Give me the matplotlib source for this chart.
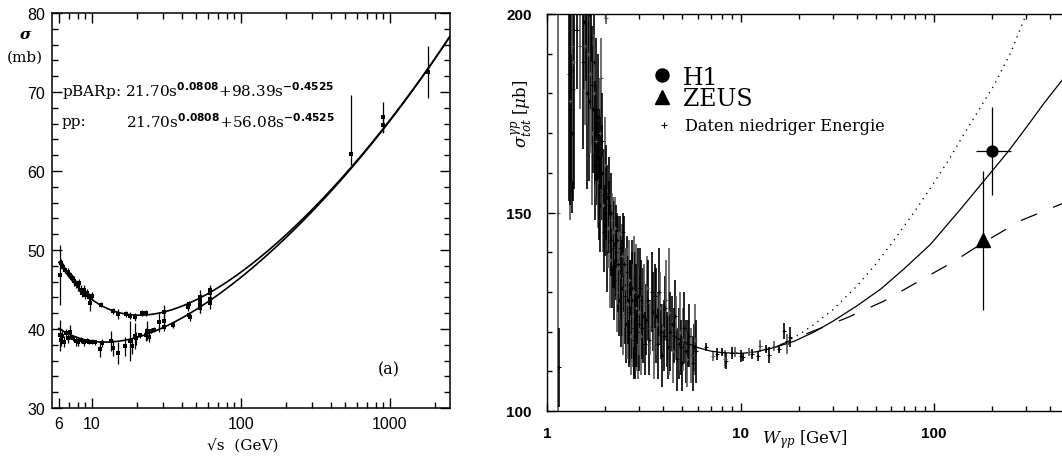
import numpy as np
import matplotlib
matplotlib.use("Agg")
import matplotlib.pyplot as plt
from matplotlib.lines import Line2D

plt.rcParams['lines.scale_dashes'] = False

# ---------------- left panel: fit parameters shown in the chart ----------------
fit_A = 21.70
fit_eps = 0.0808
fit_Y_ppbar = 98.39
fit_Y_pp = 56.08
fit_eta = 0.4525
curve_range = [6.0, 2530.0]

# antiproton-proton data (sqrt s [GeV], sigma [mb], error)
ppbar_rs = [6.1, 6.2, 6.4, 6.6, 6.9, 7.1, 7.3, 7.6, 7.8, 8.0, 8.2, 8.4, 8.6, 8.8, 9.0,
            9.3, 9.6, 9.7, 10.0, 11.5, 13.8, 15.0, 17.0, 18.0, 19.4, 21.5, 23.0, 30.4,
            44.2, 44.7, 53.0, 53.3, 62.0, 62.3]
ppbar_sig = [46.8, 48.3, 47.9, 47.5, 47.2, 46.8, 46.4, 46.1, 45.7, 45.4, 45.8, 45.0, 44.6, 44.9, 44.3,
             44.5, 44.1, 43.3, 44.2, 43.1, 42.3, 41.9, 41.9, 41.7, 41.5, 42.0, 42.0, 42.2,
             42.8, 43.2, 44.1, 43.5, 44.5, 45.0]
ppbar_err = [3.8, 0.6, 0.5, 0.4, 0.5, 0.4, 0.5, 0.6, 0.5, 0.6, 0.5, 0.6, 0.5, 0.7, 0.5,
             0.6, 0.5, 1.0, 0.5, 0.3, 0.4, 0.6, 0.4, 0.4, 0.5, 0.4, 0.4, 0.9,
             0.5, 0.4, 0.8, 0.5, 1.0, 0.6]

# proton-proton data
pp_rs = [6.1, 6.2, 6.3, 6.5, 6.7, 6.9, 7.1, 7.4, 7.8, 8.1, 8.5, 8.9, 9.2, 9.6, 10.0, 10.5,
         11.4, 11.7, 13.5, 13.8, 15.0, 16.6, 18.0, 18.5, 19.4, 19.8, 21.0, 23.0, 23.5,
         24.0, 25.0, 26.0, 28.3, 30.4, 30.6, 35.0, 44.7, 45.2, 52.8, 53.2, 62.0, 62.4]
pp_sig = [39.2, 38.6, 39.1, 38.4, 39.5, 38.8, 39.6, 38.9, 38.5, 38.4, 38.6, 38.3, 38.5, 38.4, 38.4, 38.3,
          37.5, 38.2, 38.5, 37.6, 37.0, 37.8, 38.5, 37.8, 39.1, 38.8, 39.2, 39.3, 39.8,
          39.0, 39.8, 39.9, 40.9, 40.3, 41.0, 40.5, 41.8, 41.5, 42.6, 43.0, 43.3, 43.8]
pp_err = [2.0, 0.8, 0.6, 0.7, 0.5, 0.6, 0.9, 0.4, 0.6, 0.5, 0.4, 0.4, 0.3, 0.3, 0.3, 0.3,
          1.0, 0.5, 1.3, 1.0, 1.4, 1.2, 2.5, 1.0, 1.6, 0.8, 0.3, 0.8, 1.2,
          0.6, 0.3, 0.3, 1.3, 0.5, 0.9, 0.4, 0.4, 0.5, 0.6, 1.0, 0.8, 0.5]

# collider antiproton-proton points
hi_rs = [546, 900, 900, 1800]
hi_sig = [62.2, 66.8, 65.8, 72.5]
hi_err_lo = [1.5, 1.9, 1.0, 3.3]
hi_err_hi = [7.4, 1.9, 1.0, 3.3]

left_xticks = [6, 10, 100, 1000]
left_xticklabels = ['6', '10', '100', '1000']
left_yticks = [30, 40, 50, 60, 70, 80]

# ---------------- right panel data ----------------
le_W = [1.145, 1.15, 1.30, 1.31, 1.32, 1.33, 1.34, 1.35, 1.36, 1.37, 1.38, 1.43, 1.48, 1.53,
        1.55, 1.58, 1.60, 1.61, 1.63, 1.64, 1.65, 1.67, 1.68, 1.70, 1.71, 1.72, 1.74, 1.75,
        1.76, 1.77, 1.79, 1.80, 1.82, 1.83, 1.84, 1.86, 1.87, 1.88, 1.89, 1.90, 1.92, 1.93,
        1.95, 1.96, 1.98, 1.99, 2.00, 2.01, 2.02, 2.04, 2.05, 2.07, 2.08, 2.10, 2.11, 2.13,
        2.14, 2.16, 2.17, 2.19, 2.20, 2.22, 2.23, 2.25, 2.26, 2.28, 2.29, 2.31, 2.32, 2.34,
        2.35, 2.37, 2.38, 2.40, 2.42, 2.44, 2.45, 2.47, 2.48, 2.50, 2.52, 2.54, 2.56, 2.58,
        2.60, 2.62, 2.64, 2.66, 2.68, 2.70, 2.72, 2.74, 2.76, 2.78, 2.80, 2.81, 2.83, 2.85,
        2.86, 2.88, 2.90, 2.92, 2.94, 2.96, 2.98, 3.00, 3.02, 3.05, 3.07, 3.10, 3.13, 3.17,
        3.20, 3.25, 3.28, 3.33, 3.37, 3.42, 3.47, 3.52, 3.57, 3.62, 3.66, 3.70, 3.75, 3.79,
        3.84, 3.88, 3.92, 3.97, 4.02, 4.08, 4.12, 4.18, 4.22, 4.27, 4.34, 4.40, 4.46, 4.53,
        4.59, 4.65, 4.72, 4.80, 4.86, 4.93, 4.99, 5.05, 5.12, 5.20, 5.28, 5.35, 5.45, 5.55,
        5.65, 5.75, 5.82, 5.90,
        6.6, 7.2, 7.6, 8.0, 8.3, 8.4, 9.0, 9.4, 10.0, 10.3, 11.0, 11.5, 12.3, 12.6,
        13.6, 14.1, 14.9, 15.8, 16.7, 17.3, 18.1]
le_sig = [150, 111, 185, 178, 176, 186, 192, 170, 181, 188, 196, 196, 192, 188,
          198, 192, 205, 180, 190, 178, 200, 185, 194, 182, 170, 176, 188, 180,
          170, 162, 168, 176, 164, 158, 174, 158, 170, 166, 152, 184, 160, 168,
          152, 145, 156, 162, 148, 155, 199, 154, 140, 146, 152, 150, 138, 143,
          150, 148, 136, 141, 145, 142, 133, 146, 140, 138, 130, 143, 137, 136,
          128, 141, 134, 134, 126, 139, 131, 145, 124, 137, 129, 131, 122, 135,
          127, 128, 120, 133, 125, 126, 119, 131, 128, 124, 118, 121, 130, 128,
          119, 126, 124, 120, 117, 129, 122, 125, 131, 128, 119, 121, 124, 127,
          117, 123, 131, 128, 118, 121, 130, 125, 116, 129, 124, 122, 117, 130,
          126, 120, 114, 121, 119, 126, 128, 118, 116, 125, 120, 122, 115, 119,
          124, 121, 113, 117, 120, 116, 112, 118, 121, 115, 113, 117, 119, 114,
          112, 116, 118, 115,
          116.1, 113.9, 114.4, 114.9, 113.1, 112.5, 114.6, 114.9, 113.9, 113.6, 114.9, 114.4, 113.9, 116.4,
          115.6, 114.1, 116.4, 115.6, 120.1, 116.9, 118.6]
le_err = [56, 10, 32, 30, 24, 28, 38, 20, 28, 30, 40, 15, 16, 22,
          17, 20, 22, 24, 18, 20, 24, 20, 18, 15, 18, 16, 22, 15,
          13, 14, 14, 18, 12, 12, 16, 15, 14, 10, 12, 10, 12, 12,
          12, 10, 10, 12, 9, 12, 1.5, 8, 10, 10, 12, 8, 12, 9,
          10, 7, 10, 10, 9, 11, 10, 8, 12, 9, 10, 7, 12, 9,
          9, 8, 11, 10, 10, 8, 12, 5, 10, 12, 12, 10, 10, 9,
          14, 11, 9, 10, 13, 12, 10, 9, 15, 13, 9, 13, 14, 12,
          11, 16, 13, 9, 9, 12, 12, 11, 10, 10, 10, 8, 12, 10,
          8, 9, 8, 10, 9, 7, 10, 10, 8, 8, 12, 8, 9, 11,
          9, 7, 8, 6, 9, 8, 10, 7, 8, 16, 10, 7, 8, 7,
          9, 8, 8, 9, 10, 7, 7, 8, 9, 8, 7, 6, 8, 7,
          7, 6, 9, 8,
          1.0, 1.2, 1.5, 1.0, 2.2, 2.0, 1.5, 1.2, 1.5, 1.0, 1.0, 1.2, 1.2, 1.5,
          1.0, 2.0, 1.2, 1.0, 2.0, 2.5, 2.5]

h1_W = [200]
h1_sig = [165.5]
h1_yerr = [11.2]
h1_xerr_lo = [35]
h1_xerr_hi = [50]

zeus_W = [179]
zeus_sig = [143.0]
zeus_yerr = [17.5]

solid_W = [4.5, 5, 6, 7, 8, 10, 12, 15, 19, 24, 30, 40, 53, 70, 96, 138, 200, 243, 306, 370, 464]
solid_sig = [119.0, 117.6, 116.0, 115.1, 114.7, 114.5, 114.9, 116.0, 117.6, 119.9, 122.6, 126.5,
             130.7, 135.8, 142.0, 151.0, 160.5, 165.5, 172.0, 177.5, 183.6]
dotted_W = [15, 17, 20, 24, 30, 40, 50, 60, 80, 100, 120, 141, 168, 204, 250, 300]
dotted_sig = [116.0, 117.3, 119.2, 121.8, 125.5, 131.5, 137.0, 142.0, 150.5, 157.5, 163.5,
              169.3, 175.3, 182.0, 190.4, 200.0]
dashed_W = [15, 19.8, 36.4, 55.2, 83.6, 125, 181, 282, 437, 464]
dashed_sig = [116.0, 118.6, 123.7, 127.7, 132.7, 137.5, 142.5, 148.0, 151.8, 152.3]

right_xticks = [1, 10, 100]
right_xticklabels = ['1', '10', '100']
right_yticks = [100, 150, 200]

# ---------------- figure ----------------
W_px, H_px = 1062, 460
fig = plt.figure(figsize=(W_px / 100, H_px / 100), dpi=100)

def ax_rect(l, t, r, b):
    return [l / W_px, 1 - b / H_px, (r - l) / W_px, (b - t) / H_px]

# ======== left panel ========
axL = fig.add_axes(ax_rect(52, 14, 450, 409))
rs = np.geomspace(curve_range[0], curve_range[1], 400)
s = rs ** 2
axL.plot(rs, fit_A * s ** fit_eps + fit_Y_ppbar * s ** (-fit_eta), color='black', lw=1.2)
axL.plot(rs, fit_A * s ** fit_eps + fit_Y_pp * s ** (-fit_eta), color='black', lw=1.2)

eb_kw = dict(fmt='s', ms=2.4, color='black', ecolor='black', elinewidth=0.9, capsize=1.8,
             capthick=0.9, mew=0)
axL.errorbar(ppbar_rs, ppbar_sig, yerr=ppbar_err, **eb_kw)
axL.errorbar(pp_rs, pp_sig, yerr=pp_err, **eb_kw)
axL.errorbar(hi_rs, hi_sig, yerr=[hi_err_lo, hi_err_hi], **eb_kw)

axL.set_xscale('log')
axL.set_xlim(5.39, 2530)
axL.set_ylim(30, 80)
axL.set_xticks(left_xticks)
axL.set_xticklabels(left_xticklabels)
minorL = [7, 8, 9] + list(range(20, 100, 10)) + list(range(200, 1000, 100)) + [2000]
axL.set_xticks(minorL, minor=True)
axL.set_xticklabels([], minor=True)
axL.set_yticks(left_yticks)
axL.set_yticks(np.arange(30, 81, 2), minor=True)
axL.tick_params(which='both', direction='in', top=True, right=True, width=1.0)
axL.tick_params(which='major', length=7.5)
axL.tick_params(which='minor', length=4)
axL.tick_params(axis='x', which='major', pad=6)
axL.tick_params(axis='y', which='major', pad=5)
for lab in axL.get_xticklabels() + axL.get_yticklabels():
    lab.set_fontfamily('Liberation Sans')
    lab.set_fontsize(11.5)
for sp in axL.spines.values():
    sp.set_linewidth(1.1)

tx = (62 - 52) / 398
axL.text(tx, (409 - 91) / 395,
         r'pBARp: 21.70s$^{\mathbf{0.0808}}$+98.39s$^{\mathbf{-0.4525}}$',
         transform=axL.transAxes, ha='left', va='center', fontsize=11,
         family='DejaVu Serif', math_fontfamily='dejavusans')
axL.text(tx, (409 - 122) / 395, 'pp:', transform=axL.transAxes, ha='left', va='center',
         fontsize=11, family='DejaVu Serif')
axL.text((126 - 52) / 398, (409 - 122) / 395,
         r'21.70s$^{\mathbf{0.0808}}$+56.08s$^{\mathbf{-0.4525}}$',
         transform=axL.transAxes, ha='left', va='center', fontsize=11,
         family='DejaVu Serif', math_fontfamily='dejavusans')
axL.text((389 - 52) / 398, (409 - 370) / 395, '(a)', transform=axL.transAxes,
         ha='center', va='center', fontsize=11.5, family='DejaVu Serif')

fig.text(25 / W_px, 1 - 35 / H_px, 'σ', ha='center', va='center', fontsize=11,
         family='DejaVu Serif', style='italic', weight='bold')
fig.text(25 / W_px, 1 - 58 / H_px, '(mb)', ha='center', va='center', fontsize=11,
         family='DejaVu Serif')
fig.text(243 / W_px, 1 - 445 / H_px, '√s  (GeV)', ha='center', va='center', fontsize=11,
         family='DejaVu Serif')

# ======== right panel ========
axR = fig.add_axes(ax_rect(547, 15, 1062, 412))
colors = ['#000000' if i % 3 else '#555555' for i in range(len(le_W))]
for w, sg, er, c in zip(le_W, le_sig, le_err, colors):
    axR.errorbar([w], [sg], yerr=[er], fmt='+', ms=3, mew=0.7, color=c, ecolor=c,
                 elinewidth=1.2, capsize=0)

axR.plot(solid_W, solid_sig, color='black', lw=0.9)
axR.plot(dotted_W, dotted_sig, color='black', lw=1.0, dashes=(0.9, 3.6))
axR.plot(dashed_W, dashed_sig, color='black', lw=0.9, dashes=(12.5, 12.5))

axR.errorbar(h1_W, h1_sig, yerr=h1_yerr, xerr=[h1_xerr_lo, h1_xerr_hi], fmt='o', ms=7.8,
             color='black', elinewidth=0.9, capsize=0)
axR.errorbar(zeus_W, zeus_sig, yerr=zeus_yerr, fmt='^', ms=10, color='black',
             elinewidth=0.9, capsize=0)

axR.set_xscale('log')
axR.set_xlim(1, 10 ** (515 / 193.5))
axR.set_ylim(100, 200)
axR.set_xticks(right_xticks)
axR.set_xticklabels(right_xticklabels)
minorR = list(range(2, 10)) + list(range(20, 100, 10)) + list(range(200, 500, 100))
axR.set_xticks(minorR, minor=True)
axR.set_xticklabels([], minor=True)
axR.set_yticks(right_yticks)
axR.set_yticks(np.arange(100, 201, 10), minor=True)
axR.spines['right'].set_visible(False)
axR.tick_params(which='both', direction='in', top=True, right=False, width=1.0)
axR.tick_params(which='major', length=6)
axR.tick_params(which='minor', length=3.8)
axR.tick_params(axis='x', which='major', pad=11)
axR.tick_params(axis='y', which='major', pad=11)
for lab in axR.get_xticklabels() + axR.get_yticklabels():
    lab.set_fontfamily('Liberation Sans')
    lab.set_fontweight('bold')
    lab.set_fontsize(11)
for sp in axR.spines.values():
    sp.set_linewidth(1.0)

fig.text(522 / W_px, 1 - 114 / H_px, r'$\sigma_{tot}^{\gamma p}$ [$\mu$b]', rotation=90,
         ha='center', va='center', fontsize=12, family='DejaVu Serif',
         math_fontfamily='dejavuserif')
fig.text(805 / W_px, 1 - 440 / H_px, r'$W_{\gamma p}$ [GeV]', ha='center', va='center',
         fontsize=12, family='DejaVu Serif', math_fontfamily='dejavuserif')

# legends
h_h1 = Line2D([], [], marker='o', ms=9.4, color='black', ls='none')
h_zeus = Line2D([], [], marker='^', ms=10.5, color='black', ls='none')
leg1 = axR.legend([h_h1, h_zeus], ['H1', 'ZEUS'], loc='center left',
                  bbox_to_anchor=((653 - 547) / 515, (412 - 89) / 397),
                  frameon=False, borderpad=0, borderaxespad=0, handlelength=0.8,
                  handletextpad=0.45, labelspacing=-0.05,
                  prop={'family': 'DejaVu Serif', 'size': 17})
axR.add_artist(leg1)
h_le = Line2D([], [], marker='+', ms=5, mew=0.8, color='black', ls='none')
axR.legend([h_le], ['Daten niedriger Energie'], loc='center left',
           bbox_to_anchor=((656 - 547) / 515, (412 - 127) / 397),
           frameon=False, borderpad=0, borderaxespad=0, handlelength=1.0,
           handletextpad=0.8, prop={'family': 'DejaVu Serif', 'size': 11.6})

fig.savefig('out.png', dpi=100)
